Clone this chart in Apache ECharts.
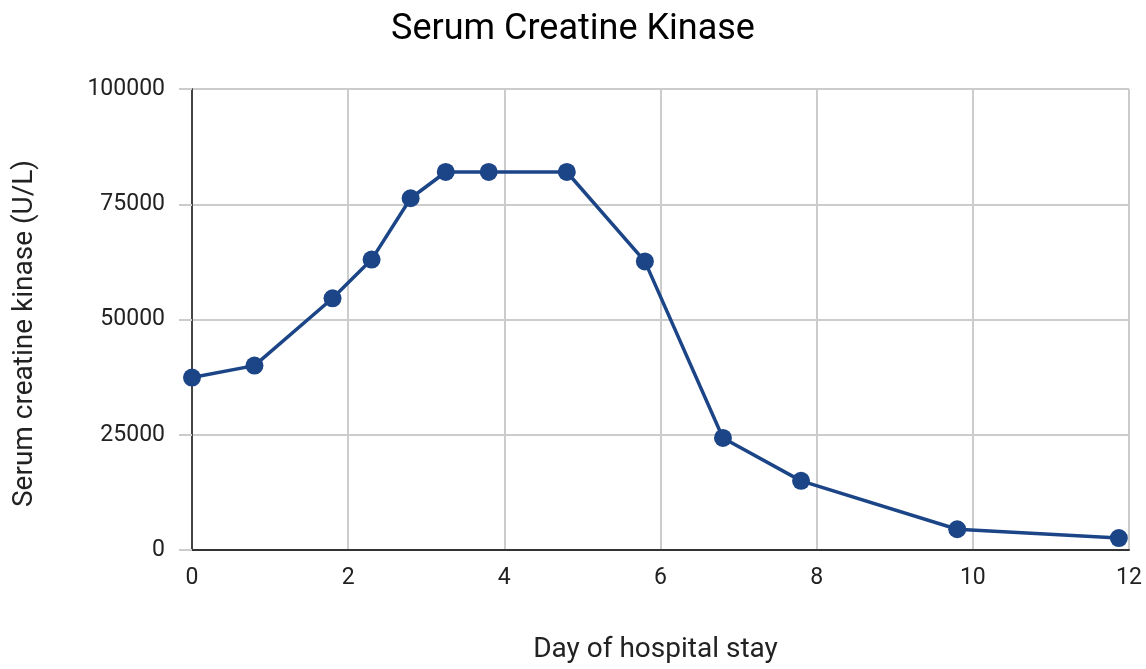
<!DOCTYPE html>
<html>
<head>
<meta charset="utf-8">
<script src="https://cdn.jsdelivr.net/npm/echarts@6/dist/echarts.min.js"></script>
<style>html,body{margin:0;padding:0;background:#fff}#c{width:1146px;height:669px}</style>
</head>
<body>
<div id="c"></div>
<script>
const days = [0, 0.8, 1.8, 2.3, 2.8, 3.25, 3.8, 4.8, 5.8, 6.8, 7.8, 9.8, 11.87];
const ck = [37400, 40000, 54600, 63000, 76300, 82000, 82000, 82000, 62600, 24300, 15000, 4500, 2600];
const yTicks = [0, 25000, 50000, 75000, 100000];
const xTicks = [0, 2, 4, 6, 8, 10, 12];

const chart = echarts.init(document.getElementById('c'), null, {renderer: 'canvas'});
const font = 'Roboto';
chart.setOption({
  animation: false,
  backgroundColor: '#fff',
  title: {
    text: 'Serum Creatine Kinase',
    left: 'center', top: 7,
    textStyle: {fontFamily: font, fontSize: 36, fontWeight: 'normal', color: '#000'}
  },
  grid: {left: 192, right: 17, top: 89, bottom: 115, containLabel: false},
  xAxis: {
    type: 'value', min: xTicks[0], max: xTicks[xTicks.length - 1], interval: 2,
    name: 'Day of hospital stay', nameLocation: 'middle', nameGap: 86,
    nameTextStyle: {fontFamily: font, fontSize: 28, color: '#222', padding: [0, 10, 0, 0]},
    axisLine: {show: true, lineStyle: {color: '#333', width: 2}},
    axisTick: {show: false},
    axisLabel: {fontFamily: font, fontSize: 23, color: '#222', margin: 17},
    splitLine: {show: true, lineStyle: {color: '#ccc', width: 2}}
  },
  yAxis: {
    type: 'value', min: yTicks[0], max: yTicks[yTicks.length - 1], interval: 25000,
    name: 'Serum creatine kinase (U/L)', nameLocation: 'middle', nameGap: 153,
    nameTextStyle: {fontFamily: font, fontSize: 28, color: '#222', padding: [0, 28, 0, 0]},
    axisLine: {show: true, onZero: false, lineStyle: {color: '#444', width: 2}},
    axisTick: {show: true, length: 13, lineStyle: {color: '#ccc', width: 2}},
    axisLabel: {fontFamily: font, fontSize: 23, color: '#222', margin: 27, formatter: v => String(v)},
    splitLine: {show: true, lineStyle: {color: '#ccc', width: 2}}
  },
  series: [{
    type: 'line',
    data: days.map((d, i) => [d, ck[i]]),
    symbol: 'circle', symbolSize: 18,
    lineStyle: {color: '#1c4587', width: 3.5},
    itemStyle: {color: '#1c4587'},
    clip: false
  }]
});
</script>
</body>
</html>
